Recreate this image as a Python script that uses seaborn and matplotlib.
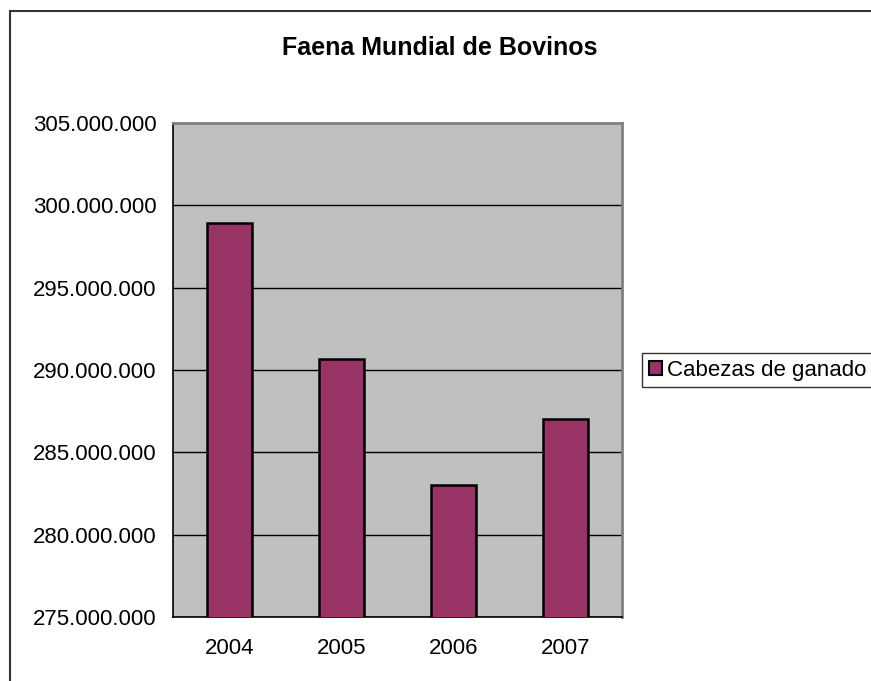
import matplotlib
matplotlib.use("Agg")
import matplotlib.pyplot as plt
import matplotlib.ticker as mticker
from matplotlib.patches import Rectangle
import seaborn as sns
import pandas as pd

years = ["2004", "2005", "2006", "2007"]
heads = [298900000, 290670000, 283000000, 287000000]
series_name = "Cabezas de ganado"
title = "Faena Mundial de Bovinos"

sns.set_style("white")
plt.rcParams["font.family"] = ["Liberation Sans", "DejaVu Sans"]
plt.rcParams["text.color"] = "black"
plt.rcParams["xtick.color"] = "black"
plt.rcParams["ytick.color"] = "black"
plt.rcParams["xtick.labelcolor"] = "black"
plt.rcParams["ytick.labelcolor"] = "black"

df = pd.DataFrame({"year": years, "value": heads})

fig = plt.figure(figsize=(8.71, 6.81), dpi=100)
ax = fig.add_axes([0.199, 0.0935, 0.515, 0.7263])
ax.set_facecolor("#C0C0C0")

sns.barplot(data=df, x="year", y="value", color="#993366", width=0.40,
            edgecolor="black", linewidth=1.8, saturation=1, ax=ax,
            label=series_name, zorder=3)

ax.set_ylim(275000000, 305000000)
ax.set_xlim(-0.5, 3.5)
ax.yaxis.set_major_locator(mticker.MultipleLocator(5000000))
ax.yaxis.set_major_formatter(mticker.FuncFormatter(lambda v, p: f"{int(round(v)):,}".replace(",", ".")))
ax.grid(axis="y", color="black", linewidth=1, zorder=1)
ax.set_axisbelow(True)

# x ticks at category boundaries, labels at centers
ax.set_xticks([-0.5, 0.5, 1.5, 2.5, 3.5])
ax.set_xticklabels([])
ax.set_xticks([0, 1, 2, 3], minor=True)
ax.set_xticklabels(years, minor=True)
ax.tick_params(axis="x", which="major", direction="out", length=5, width=1, color="black")
ax.tick_params(axis="x", which="minor", length=0, pad=15, labelsize=16)
ax.tick_params(axis="y", direction="out", length=5, width=1, color="black", labelsize=16, pad=7)
ax.set_xlabel("")
ax.set_ylabel("")

for s in ["left", "bottom"]:
    ax.spines[s].set_color("black")
    ax.spines[s].set_linewidth(1.2)
for s in ["top", "right"]:
    ax.spines[s].set_color("#808080")
    ax.spines[s].set_linewidth(2)
    ax.spines[s].set_visible(True)

fig.text(0.505, 0.929, title, ha="center", va="center", fontsize=18, fontweight="bold")

leg = ax.legend(loc="upper left", bbox_to_anchor=(0.737, 0.4816), bbox_transform=fig.transFigure,
                fancybox=False, frameon=True, edgecolor="black", fontsize=16,
                handlelength=0.6, handleheight=0.6, handletextpad=0.25,
                borderpad=0.3, borderaxespad=0)
leg.get_frame().set_linewidth(1)
for h in leg.legend_handles:
    h.set_edgecolor("black")
    h.set_linewidth(1.5)

fig.patches.append(Rectangle((0.0115, -0.2), 1.5, 0.9838 + 0.2, transform=fig.transFigure,
                             fill=False, edgecolor="#333333", linewidth=1.5, figure=fig))

fig.savefig("out.png", dpi=100)
